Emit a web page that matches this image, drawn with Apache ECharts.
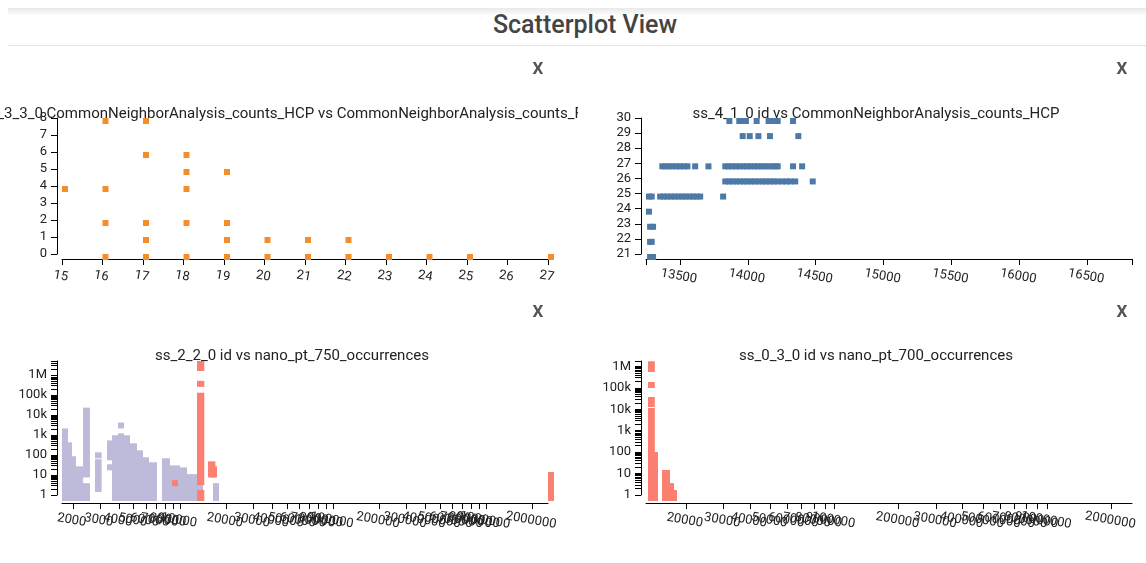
<!DOCTYPE html>
<html>
<head>
<meta charset="utf-8">
<title>Scatterplot View</title>
<script src="https://cdn.jsdelivr.net/npm/echarts@6.0.0/dist/echarts.min.js"></script>
<style>
  html, body { margin: 0; padding: 0; background: #fff; width: 1146px; height: 563px; overflow: hidden; font-family: Roboto, sans-serif; }
  .shade { position: absolute; left: 8px; right: 0; top: 8px; height: 8px; background: linear-gradient(rgba(0,0,0,0.09), rgba(0,0,0,0)); }
  .header { position: absolute; left: 8px; right: 0; top: 9px; height: 36px; border-bottom: 1px solid #e3e3e3; }
  .header h1 { position: absolute; left: 0; width: 1154px; top: 1px; margin: 0; text-align: center; font-size: 25px; font-weight: 500; color: #444; }
  .panel { position: absolute; width: 578px; height: 245px; }
</style>
</head>
<body>
<div class="shade"></div>
<div class="header"><h1>Scatterplot View</h1></div>
<div id="tl" class="panel" style="left:0;top:50px"></div>
<div id="tr" class="panel" style="left:584px;top:50px"></div>
<div id="bl" class="panel" style="left:0;top:293px"></div>
<div id="br" class="panel" style="left:584px;top:293px"></div>
<script>
// ---- ss_3_3_0 : counts_HCP (x) vs counts_FCC (y)
const ss330Hcp = [15, 16, 16, 16, 16, 17, 17, 17, 17, 17, 18, 18, 18, 18, 18, 19, 19, 19, 19, 20, 20, 21, 21, 22, 22, 23, 24, 25, 27];
const ss330Fcc = [4, 8, 4, 2, 0, 8, 6, 2, 1, 0, 6, 5, 4, 2, 0, 5, 2, 1, 0, 1, 0, 1, 0, 1, 0, 0, 0, 0, 0];

// ---- ss_4_1_0 : id (x) vs counts_HCP (y), one id list per HCP value
const ss410Hcp = [30, 29, 27, 26, 25, 24, 23, 22, 21];
const ss410Ids = [
  [13842, 13915, 13940, 13964, 14043, 14131, 14160, 14198, 14311],
  [13940, 13992, 14056, 14141, 14350],
  [13348, 13372, 13398, 13425, 13452, 13478, 13505, 13533, 13590, 13688, 13812, 13838, 13864, 13890, 13917,
   13945, 13972, 14000, 14026, 14053, 14080, 14106, 14131, 14158, 14183, 14198, 14311, 14378],
  [13812, 13840, 13866, 13893, 13921, 13948, 13975, 14003, 14030, 14058, 14085, 14112, 14140, 14167, 14195,
   14230, 14262, 14290, 14327, 14456],
  [13250, 13270, 13332, 13358, 13385, 13412, 13440, 13467, 13494, 13521, 13548, 13575, 13601, 13627, 13796],
  [13250],
  [13258, 13280],
  [13258, 13270],
  [13258, 13280]
];
const ss410IdTicks = [13250, 13500, 14000, 14500, 15000, 15500, 16000, 16500, 16830];
const ss410IdLabels = [13500, 14000, 14500, 15000, 15500, 16000, 16500];

// ---- ss_2_2_0 : id (x) vs nano_pt_750_occurrences (y)
// dense runs of overlapping points: [idFirst, idLast, occLow, occHigh]
const ss220Purple = [
  [1700, 1700, 1, 2090], [1805, 1805, 1, 425], [1918, 1918, 1, 86], [2037, 2134, 1, 27],
  [2331, 2366, 15, 23000], [2331, 2366, 1, 3.9],
  [2793, 2819, 135, 135], [2793, 2819, 2.8, 61],
  [3346, 3346, 108, 533], [3346, 3346, 34, 34],
  [3607, 4320, 1, 950], [3947, 3947, 1, 1200], [3947, 3947, 4170, 4170],
  [4728, 4800, 1, 380], [5253, 5253, 1, 170], [5748, 5748, 1, 76], [6104, 6480, 1, 43],
  [7645, 7878, 1, 68], [8627, 9165, 1, 30], [10030, 10190, 1, 24], [11140, 11830, 1, 11], [12950, 12950, 1, 5.5],
  [16470, 16470, 1, 3.9]
];
const ss220Red = [
  [12950, 13210, 3100000, 4900000], [12950, 13210, 500000, 500000], [12950, 13210, 6.2, 128000],
  [12950, 13210, 1, 1.8], [15270, 15600, 15, 48], [15980, 15980, 15, 27], [8890, 8890, 5.5, 5.5],
  [2540000, 2540000, 1, 14]
];
const ss220IdTicks = [1700, 2000, 3000, 4000, 5000, 6000, 7000, 8000, 9000, 10000, 20000, 30000, 40000, 50000,
  60000, 70000, 80000, 90000, 100000, 200000, 300000, 400000, 500000, 600000, 700000, 800000, 900000,
  1000000, 2000000, 2540000];
const ss220IdLabels = [2000, 3000, 4000, 5000, 6000, 7000, 8000, 9000, 10000, 20000, 30000, 40000, 50000,
  60000, 70000, 80000, 90000, 100000, 200000, 300000, 400000, 500000, 600000, 700000, 800000, 900000,
  1000000, 2000000];

// ---- ss_0_3_0 : id (x) vs nano_pt_700_occurrences (y)
const ss030Red = [
  [13285, 13400, 1050000, 1750000], [13285, 13400, 188000, 188000], [13285, 13400, 24400, 37600],
  [13285, 13400, 1, 11500], [13285, 13870, 1, 102],
  [15460, 15800, 1, 14.7], [16500, 16500, 1, 3.6], [17040, 17040, 1, 1.7]
];
const ss030IdTicks = [13000, 20000, 30000, 40000, 50000, 60000, 70000, 80000, 90000, 100000, 200000, 300000,
  400000, 500000, 600000, 700000, 800000, 900000, 1000000, 2000000, 2500000];
const ss030IdLabels = [20000, 30000, 40000, 50000, 60000, 70000, 80000, 90000, 100000, 200000, 300000,
  400000, 500000, 600000, 700000, 800000, 900000, 1000000, 2000000];

// occurrence (log) ticks
const occTicks = [1, 2, 3, 4, 5, 6, 7, 8, 9, 10, 20, 30, 40, 50, 60, 70, 80, 90, 100, 200, 300, 400, 500, 600,
  700, 800, 900, 1000, 2000, 3000, 4000, 5000, 6000, 7000, 8000, 9000, 10000, 20000, 30000, 40000, 50000,
  60000, 70000, 80000, 90000, 100000, 200000, 300000, 400000, 500000, 600000, 700000, 800000, 900000,
  1000000, 2000000, 3000000, 4000000];
const occLabels = [1, 10, 100, 1000, 10000, 100000, 1000000];

const ORANGE = '#f28e2c';
const BLUE = '#4e79a7';
const PURPLE = '#bebada';
const SALMON = '#fb8072';
const FONT = 'Roboto, sans-serif';
const lineStyle = { color: '#000', width: 1 };

function siLabel(v) {
  if (v >= 1e6) return Math.round(v / 1e6) + 'M';
  if (v >= 1e3) return Math.round(v / 1e3) + 'k';
  return String(Math.round(v));
}

function xLabel(extra) {
  return Object.assign({ rotate: -10, align: 'center', verticalAlign: 'top', margin: 11, fontSize: 13,
    fontFamily: FONT, color: '#222', showMinLabel: true, showMaxLabel: true, hideOverlap: false }, extra);
}

function xAxisBase(extra) {
  return Object.assign({
    axisLine: { show: true, onZero: false, lineStyle: lineStyle },
    axisTick: { show: true, length: 6, lineStyle: lineStyle },
    axisLabel: xLabel({}),
    splitLine: { show: false }
  }, extra);
}

function yAxisBase(extra) {
  return Object.assign({
    offset: 5,
    axisLine: { show: true, onZero: false, lineStyle: lineStyle },
    axisTick: { show: true, length: 6, lineStyle: lineStyle },
    axisLabel: { margin: 10, fontSize: 13, fontFamily: FONT, color: '#222', showMinLabel: true, showMaxLabel: true },
    splitLine: { show: false }
  }, extra);
}

function decor(title, titleY) {
  return [
    { type: 'text', x: 292, y: titleY, silent: true,
      style: { text: title, fontSize: 15, fontFamily: FONT, fill: '#222', align: 'center', textAlign: 'center',
               verticalAlign: 'middle', textVerticalAlign: 'middle' } },
    { type: 'text', x: 538, y: 20, silent: true,
      style: { text: 'X', fontSize: 17, fontWeight: 'bold', fontFamily: FONT, fill: '#555', align: 'center',
               textAlign: 'center', verticalAlign: 'middle', textVerticalAlign: 'middle' } }
  ];
}

function squares(data, color) {
  return { type: 'scatter', symbol: 'rect', symbolSize: 6, symbolOffset: [3, 3], clip: false, silent: true,
           itemStyle: { color: color, opacity: 1 }, data: data };
}

function runs(data, color) {
  return {
    type: 'custom', clip: false, silent: true, data: data,
    encode: { x: [0, 1], y: [2, 3] },
    renderItem: function (params, api) {
      const tl = api.coord([api.value(0), api.value(3)]);
      const br = api.coord([api.value(1), api.value(2)]);
      return { type: 'rect', shape: { x: tl[0], y: tl[1], width: br[0] - tl[0] + 6, height: br[1] - tl[1] + 6 },
               style: { fill: color } };
    }
  };
}

// top left
const tl = echarts.init(document.getElementById('tl'));
tl.setOption({
  animation: false,
  graphic: decor('ss_3_3_0 CommonNeighborAnalysis_counts_HCP vs CommonNeighborAnalysis_counts_FCC', 64),
  grid: { left: 62, top: 68, width: 486, height: 136, outerBoundsMode: 'none', containLabel: false },
  xAxis: xAxisBase({ type: 'value', min: 15, max: 27, interval: 1, offset: 5 }),
  yAxis: yAxisBase({ type: 'value', min: 0, max: 8, interval: 1 }),
  series: [squares(ss330Hcp.map((x, i) => [x, ss330Fcc[i]]), ORANGE)]
});

// top right
const ss410Points = [];
ss410Ids.forEach((ids, r) => ids.forEach(id => ss410Points.push([id, ss410Hcp[r]])));
const tr = echarts.init(document.getElementById('tr'));
tr.setOption({
  animation: false,
  graphic: decor('ss_4_1_0 id vs CommonNeighborAnalysis_counts_HCP', 64),
  grid: { left: 62, top: 68, width: 486, height: 136, outerBoundsMode: 'none', containLabel: false },
  xAxis: xAxisBase({ type: 'value', min: 13250, max: 16830, offset: 5,
    axisTick: { show: true, length: 6, lineStyle: lineStyle, customValues: ss410IdTicks },
    axisLabel: xLabel({ customValues: ss410IdLabels, formatter: v => String(Math.round(v)) }) }),
  yAxis: yAxisBase({ type: 'value', min: 21, max: 30, interval: 1 }),
  series: [squares(ss410Points, BLUE)]
});

function logPanel(id, title, idMin, idMax, idTicks, idLabels, occMax, seriesList) {
  const chart = echarts.init(document.getElementById(id));
  // the extent values head and tail the label list as hidden placeholders, so that
  // the min/max overlap check never drops a real (overlapping) tick label
  chart.setOption({
    animation: false,
    graphic: decor(title, 63),
    grid: { left: 62, top: 68, width: 486, height: 134, outerBoundsMode: 'none', containLabel: false },
    xAxis: xAxisBase({ type: 'log', logBase: 10, min: idMin, max: idMax, offset: 8,
      axisTick: { show: true, length: 6, lineStyle: lineStyle, customValues: idTicks },
      axisLabel: xLabel({ customValues: [idMin].concat(idLabels, [idMax]), showMinLabel: false,
                          showMaxLabel: false, formatter: v => String(Math.round(v)) }) }),
    yAxis: yAxisBase({ type: 'log', logBase: 10, min: 1, max: occMax,
      axisTick: { show: true, length: 6, lineStyle: lineStyle, customValues: occTicks.concat([occMax]) },
      axisLabel: { margin: 10, fontSize: 13, fontFamily: FONT, color: '#222', customValues: occLabels,
                   formatter: siLabel, showMinLabel: true, showMaxLabel: true } }),
    series: seriesList
  });
}

logPanel('bl', 'ss_2_2_0 id vs nano_pt_750_occurrences', 1700, 2540000, ss220IdTicks, ss220IdLabels, 4900000,
  [runs(ss220Purple, PURPLE), runs(ss220Red, SALMON)]);
logPanel('br', 'ss_0_3_0 id vs nano_pt_700_occurrences', 13000, 2500000, ss030IdTicks, ss030IdLabels, 1800000,
  [runs(ss030Red, SALMON)]);
</script>
</body>
</html>
